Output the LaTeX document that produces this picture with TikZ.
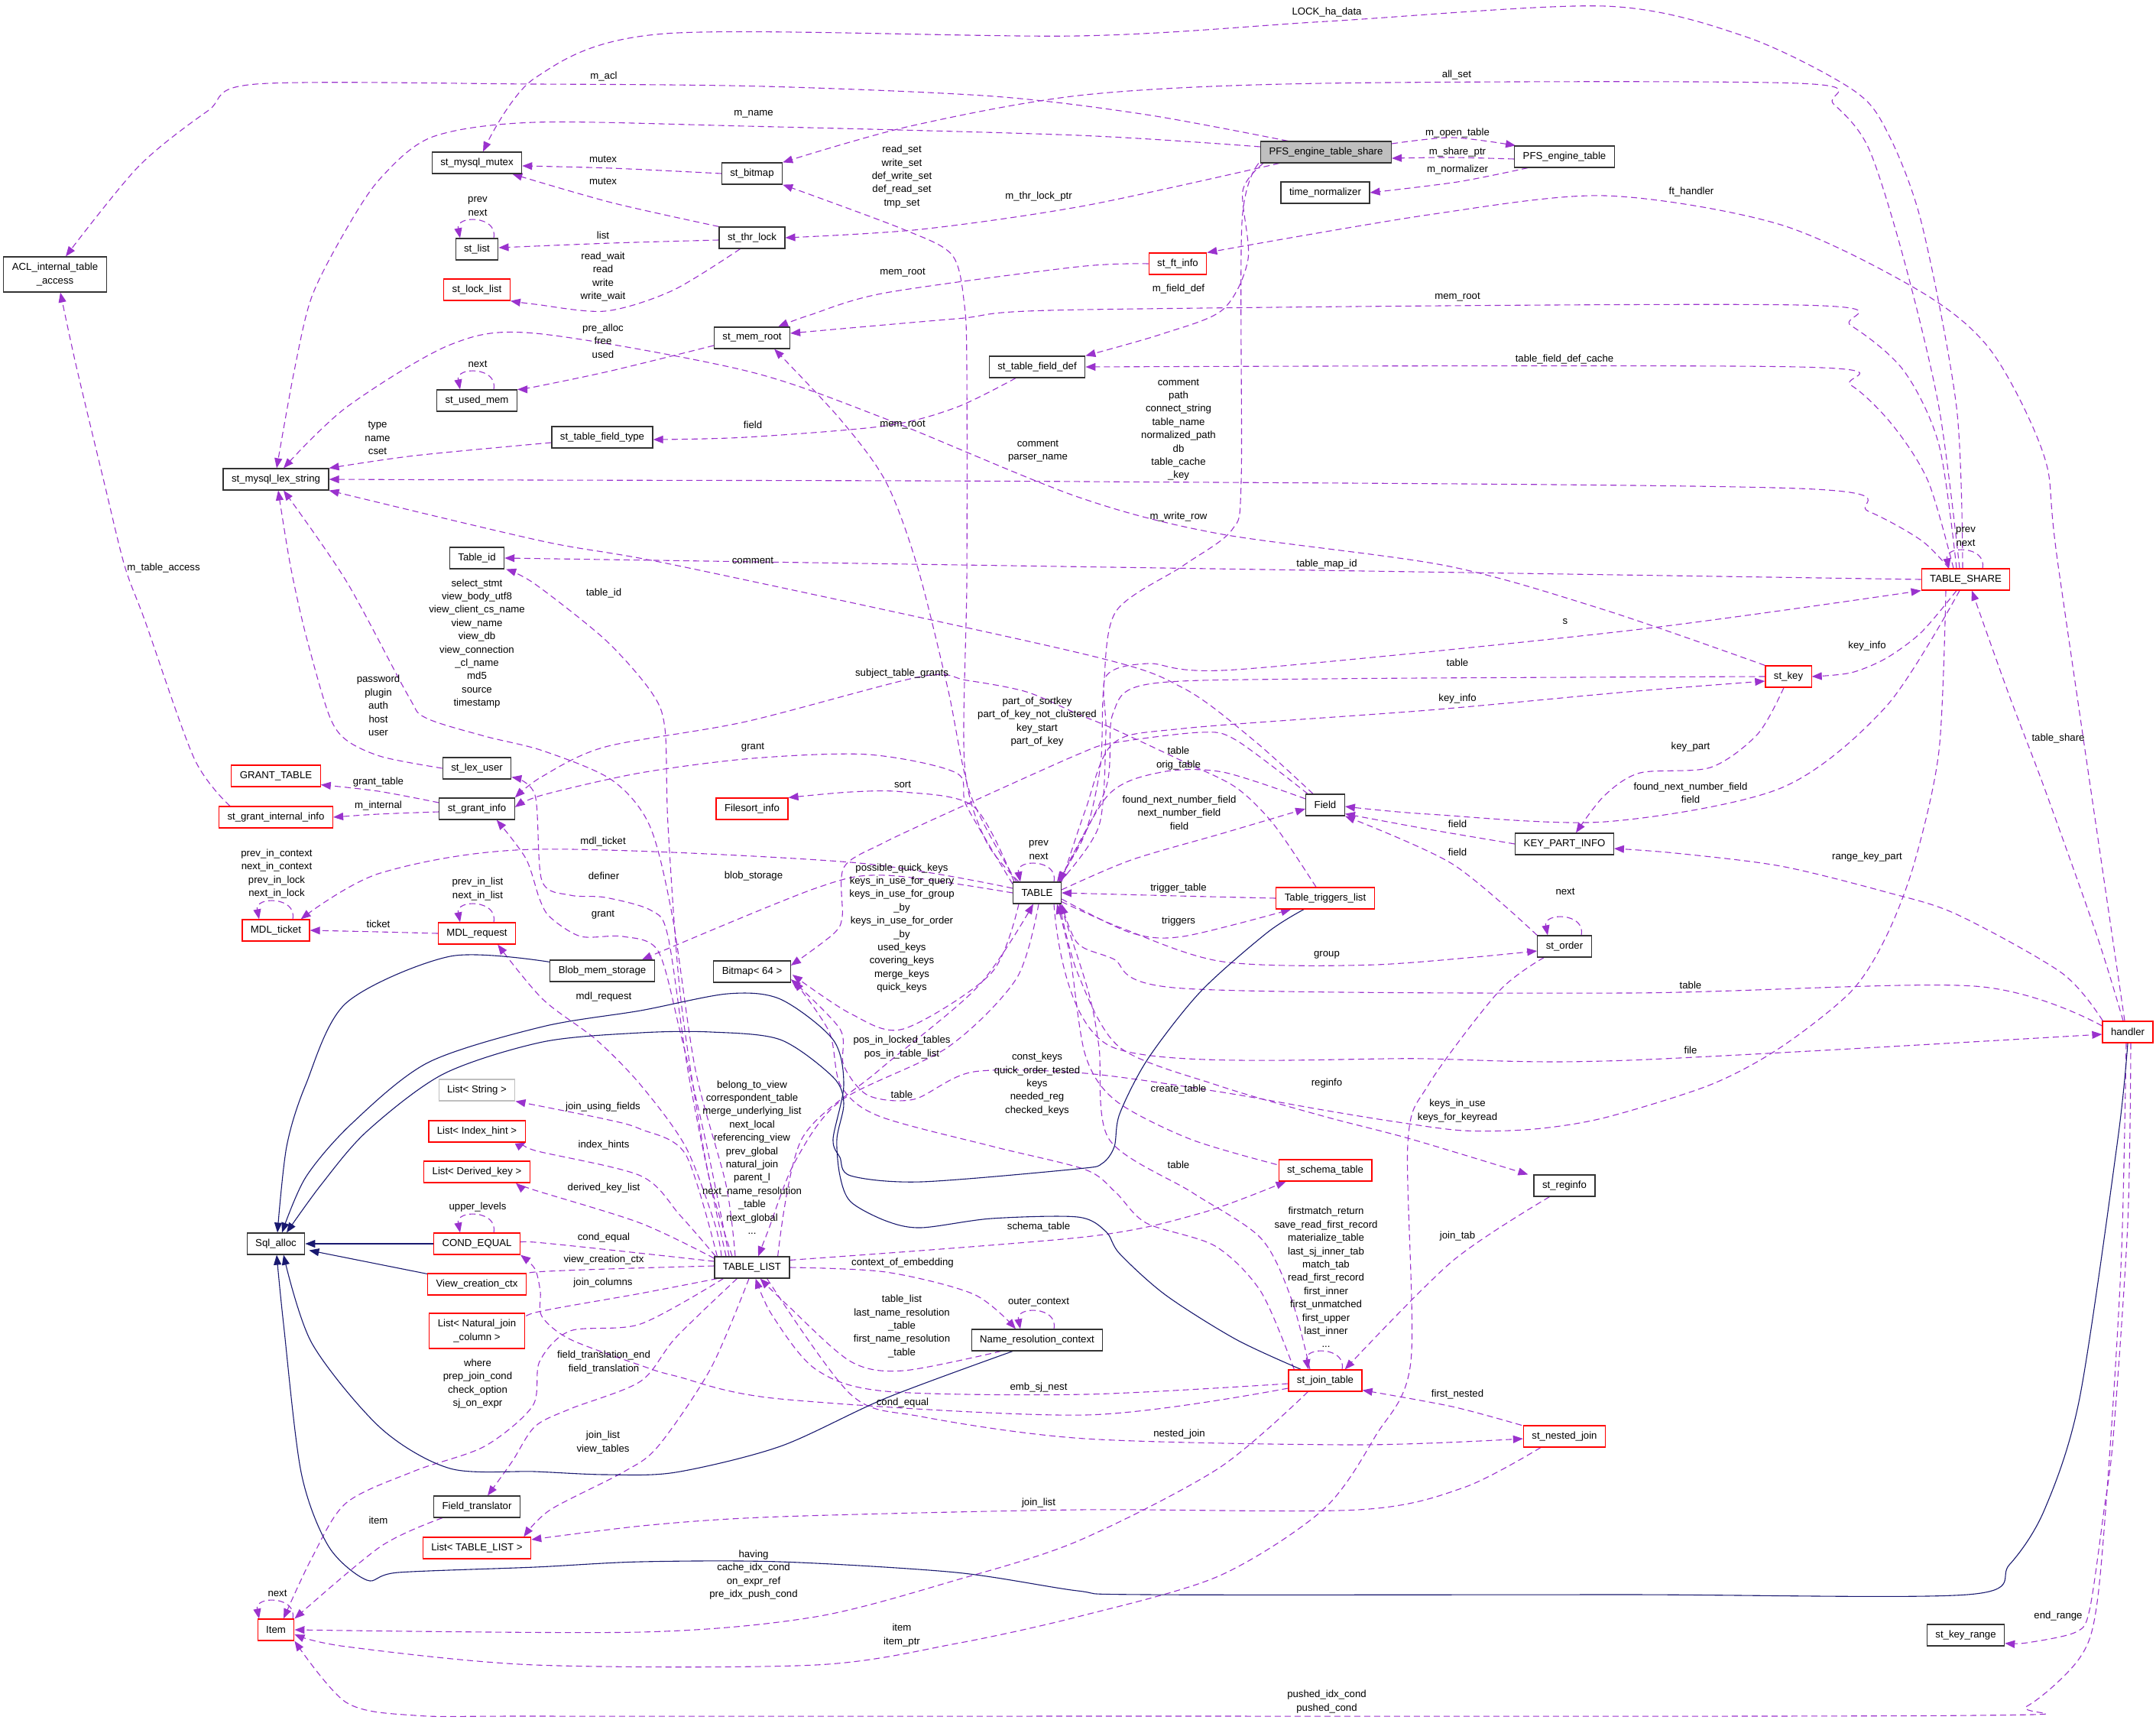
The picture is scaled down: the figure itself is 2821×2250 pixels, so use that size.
\documentclass[tikz,border=0pt]{standalone}
\usepackage{fontspec}
\setmainfont{Liberation Sans}
\usetikzlibrary{arrows.meta,calc}
\definecolor{epurple}{HTML}{9A32CD}
\definecolor{eblue}{HTML}{191970}
\newcommand\lblfont{\fontsize{13.2}{17.4}\selectfont}
\newcommand\mloop[1]{\draw[mem] ($(#1.north)+(22,0)$) .. controls +(6,-30) and +(-6,-30) .. ($(#1.north)+(-22,0)$);}
\pgfdeclarelayer{bg}
\pgfdeclarelayer{edges}
\pgfsetlayers{bg,edges,main}
\begin{document}
\begin{tikzpicture}[x=1pt,y=-1pt,
  box/.style={draw=black!80, line width=1.2pt, fill=white, inner xsep=11pt, inner ysep=0pt, minimum height=28pt, font=\lblfont, align=center},
  redbox/.style={box, draw=red},
  graybox/.style={box, draw=black!25},
  lab/.style={font=\lblfont, align=center, inner sep=0pt},
  mem/.style={draw=epurple, line width=1.1pt, dash pattern=on 8pt off 5pt, -{Triangle[length=13pt,width=10pt]}},
  inh/.style={draw=eblue, line width=1.1pt, -{Triangle[length=13pt,width=10pt]}}]
\begin{pgfonlayer}{bg}
\fill[white] (0,0) rectangle (2821,2250);
\end{pgfonlayer}
\useasboundingbox (0,0) rectangle (2821,2250);
% ---------------- nodes
\node[box, minimum height=46pt] (acl) at (72,359) {ACL\_internal\_table\\\_access};
\node[box] (mutex) at (624,213) {st\_mysql\_mutex};
\node[box] (list) at (624,326) {st\_list};
\node[redbox] (locklist) at (624,379) {st\_lock\_list};
\node[box] (usedmem) at (624,524) {st\_used\_mem};
\node[box] (lexstr) at (361,627) {st\_mysql\_lex\_string};
\node[box] (tableid) at (624,730) {Table\_id};
\node[box] (bitmap) at (984,227) {st\_bitmap};
\node[box] (thrlock) at (984,311) {st\_thr\_lock};
\node[box] (memroot) at (984,442) {st\_mem\_root};
\node[box] (tfdef) at (1357,480) {st\_table\_field\_def};
\node[box] (tftype) at (788,572) {st\_table\_field\_type};
\node[box, fill=black!25] (pfsshare) at (1735,199) {PFS\_engine\_table\_share};
\node[box] (pfstable) at (2047,205) {PFS\_engine\_table};
\node[box] (timenorm) at (1734,252) {time\_normalizer};
\node[redbox] (ftinfo) at (1541,345) {st\_ft\_info};
\node[redbox] (tshare) at (2572,758) {TABLE\_SHARE};
\node[redbox] (granttable) at (361,1015) {GRANT\_TABLE};
\node[redbox] (grantint) at (361,1069) {st\_grant\_internal\_info};
\node[box] (lexuser) at (624,1005) {st\_lex\_user};
\node[box] (grantinfo) at (624,1058) {st\_grant\_info};
\node[redbox] (mdlticket) at (361,1217) {MDL\_ticket};
\node[redbox] (mdlreq) at (624,1221) {MDL\_request};
\node[graybox] (liststring) at (624,1426) {List< String >};
\node[redbox] (listindex) at (624,1480) {List< Index\_hint >};
\node[redbox] (filesort) at (984,1058) {Filesort\_info};
\node[box] (table) at (1357,1168) {TABLE};
\node[box] (blob) at (788,1270) {Blob\_mem\_storage};
\node[box] (bitmap64) at (984,1271) {Bitmap< 64 >};
\node[box] (field) at (1734,1053) {Field};
\node[box] (kpi) at (2047,1104) {KEY\_PART\_INFO};
\node[redbox] (triggers) at (1734,1175) {Table\_triggers\_list};
\node[box] (order) at (2047,1238) {st\_order};
\node[redbox] (stkey) at (2340,885) {st\_key};
\node[redbox] (handler) at (2784,1350) {handler};
\node[box] (sqlalloc) at (361,1627) {Sql\_alloc};
\node[redbox] (listderived) at (624,1533) {List< Derived\_key >};
\node[redbox] (condeq) at (624,1627) {COND\_EQUAL};
\node[redbox] (viewctx) at (624,1680) {View\_creation\_ctx};
\node[redbox, minimum height=46pt] (listnat) at (624,1741) {List< Natural\_join\\\_column >};
\node[box] (fieldtr) at (624,1971) {Field\_translator};
\node[redbox] (listtl) at (624,2025) {List< TABLE\_LIST >};
\node[redbox] (item) at (361,2132) {Item};
\node[box] (tablelist) at (984,1658) {TABLE\_LIST};
\node[box] (namectx) at (1357,1753) {Name\_resolution\_context};
\node[redbox] (schema) at (1734,1531) {st\_schema\_table};
\node[box] (reginfo) at (2047,1551) {st\_reginfo};
\node[redbox] (jointab) at (1734,1806) {st\_join\_table};
\node[redbox] (nested) at (2047,1879) {st\_nested\_join};
\node[box] (keyrange) at (2572,2139) {st\_key\_range};
% ---------------- edges
\begin{pgfonlayer}{edges}
\draw[mem] plot[smooth] coordinates {($(tshare.north)+(-4,0)$) (2560,533) (2514,291) (2468,170) (2422,116) (2284,48) (2100,8) (1736,28) (1410,47) (870,44) (700,102) ($(mutex.north)+(8,0)$)};
\draw[mem] plot[smooth] coordinates {($(tshare.north)+(-8,0)$) (2537,533) (2491,339) (2445,194) (2399,136) (2353,109) (1731,109) (1420,124) (1191,165) (bitmap.north east)};
\draw[mem] plot[smooth] coordinates {($(pfsshare.north)+(-50,0)$) (1500,150) (1300,126) (1000,113) (700,110) (335,110) (272,145) (181,218) ($(acl.north)+(14,0)$)};
\draw[mem] plot[smooth] coordinates {($(pfsshare.west)+(0,-7)$) (1410,177) (976,165) (700,160) (566,179) (498,233) (453,300) (408,388) (385,485) ($(lexstr.north)+(1,0)$)};
\draw[mem] plot[smooth] coordinates {($(pfsshare.south west)+(25,0)$) (1420,269) (1205,300) (thrlock.east)};
\draw[mem] plot[smooth] coordinates {($(pfsshare.east)+(0,-11)$) (1900,180) ($(pfstable.north west)+(2,0)$)};
\draw[mem] plot[smooth] coordinates {($(pfstable.west)+(0,3)$) (1900,206) ($(pfsshare.east)+(0,8)$)};
\draw[mem] plot[smooth] coordinates {($(pfstable.south west)+(18,0)$) (1907,238) (timenorm.east)};
\draw[mem] plot[smooth] coordinates {(bitmap.west) (800,220) ($(mutex.east)+(0,4)$)};
\draw[mem] plot[smooth] coordinates {(thrlock.north west) (800,265) ($(mutex.south east)+(-13,0)$)};
\draw[mem] plot[smooth] coordinates {($(thrlock.west)+(0,3)$) (800,318) ($(list.east)+(0,-2)$)};
\mloop{list}
\draw[mem] plot[smooth] coordinates {($(thrlock.south west)+(28,0)$) (880,380) (792,407) (700,398) (locklist.south east)};
\draw[mem] plot[smooth] coordinates {($(memroot.west)+(0,10)$) (800,485) (700,506) (usedmem.north east)};
\mloop{usedmem}
\draw[mem] plot[smooth] coordinates {(ftinfo.west) (1410,349) (1159,383) (1060,412) ($(memroot.north east)+(-16,0)$)};
\draw[mem] plot[smooth] coordinates {($(tshare.north)+(-12,0)$) (2537,582) (2491,485) (2422,426) (2353,399) (1420,405) (1251,417) ($(memroot.east)+(0,-6)$)};
\draw[mem] plot[smooth] coordinates {($(table.north west)+(5,0)$) (1270,1040) (1240,900) (1200,740) (1159,630) (1099,548) ($(memroot.south east)+(-21,0)$)};
\draw[mem] plot[smooth] coordinates {($(pfsshare.south west)+(4,0)$) (1626,250) (1633,339) (1600,405) (1520,437) (tfdef.north east)};
\draw[mem] plot[smooth] coordinates {($(pfsshare.south west)+(-2,0)$) (1625,291) (1624,630) (1612,693) (1548,740) (1460,800) (1444,900) (1440,1000) (1420,1090) ($(table.north east)+(-6,0)$)};
\draw[mem] plot[smooth] coordinates {($(tshare.north)+(-16,0)$) (2523,630) (2477,557) (2422,504) (2353,480) (tfdef.east)};
\draw[mem] plot[smooth] coordinates {($(tfdef.south)+(-28,0)$) (1251,533) (1159,557) (976,572) ($(tftype.east)+(0,3)$)};
\draw[mem] plot[smooth] coordinates {($(tftype.west)+(0,7)$) (543,596) (lexstr.north east)};
\draw[mem] plot[smooth] coordinates {($(tshare.north)+(-22,0)$) (2514,707) (2445,669) (2353,639) (1420,630) (700,628) (lexstr.east)};
\draw[mem] plot[smooth] coordinates {(stkey.north west) (2100,798) (1892,740) (1594,698) (1410,650) (1159,548) (976,485) (700,436) (589,451) (453,533) ($(lexstr.north)+(10,0)$)};
\draw[mem] plot[smooth] coordinates {($(field.north)+(-16,0)$) (1640,968) (1548,900) (1420,856) (887,740) (710,708) (lexstr.south east)};
\draw[mem] plot[smooth] coordinates {(lexuser.west) (500,990) (453,968) (430,934) (400,830) (380,740) ($(lexstr.south)+(3,0)$)};
\draw[mem] plot[smooth] coordinates {($(tablelist.north)+(-22,0)$) (950,1550) (910,1400) (880,1200) (850,1080) (800,1020) (710,982) (634,963) (557,939) (534,910) (453,760) ($(lexstr.south)+(10,0)$)};
\draw[mem] plot[smooth] coordinates {($(table.north west)+(8,0)$) (1290,1100) (1262,1000) (1265,760) (1265,485) (1262,400) (1246,334) (1182,300) (bitmap.south east)};
\draw[mem] plot[smooth] coordinates {($(handler.north)+(-4,0)$) (2693,740) (2675,598) (2606,460) (2514,382) (2330,294) (2100,256) (1869,281) (ftinfo.north east)};
\draw[mem] (tshare.west) -- (tableid.east);
\draw[mem] plot[smooth] coordinates {($(table.north east)+(-2,0)$) (1438,1080) (1447,958) (1447,885) (1502,868) (1617,876) (2130,825) (tshare.south west)};
\draw[mem] plot[smooth] coordinates {(stkey.west) (1731,888) (1502,895) (1456,934) (1447,1031) ($(table.north east)+(-4,0)$)};
\draw[mem] plot[smooth] coordinates {(table.north east) (1420,1060) (1456,973) (1548,953) (1869,929) (2130,905) ($(stkey.west)+(0,6)$)};
\draw[mem] plot[smooth] coordinates {($(tshare.south)+(-12,0)$) (2514,827) (2468,861) (2422,880) (stkey.east)};
\draw[mem] plot[smooth] coordinates {($(stkey.south)+(-6,0)$) (2300,960) (2238,1004) (2146,1011) (2099,1041) ($(kpi.north)+(15,0)$)};
\draw[mem] plot[smooth] coordinates {($(tshare.south)+(-8,0)$) (2468,924) (2330,1031) (2100,1075) (1869,1065) ($(field.east)+(0,2)$)};
\draw[mem] plot[smooth] coordinates {(kpi.west) (1870,1085) ($(field.south east)+(0,-3)$)};
\draw[mem] plot[smooth] coordinates {($(handler.north west)+(1,0)$) (2698,1273) (2560,1196) (2468,1167) (2330,1133) (2192,1116) ($(kpi.east)+(0,6)$)};
\draw[mem] plot[smooth] coordinates {(order.north west) (1900,1130) (field.south east)};
\mloop{order}
\mloop{tshare}
\draw[mem] plot[smooth] coordinates {($(handler.north)+(-6,0)$) (2744,1225) (2675,1031) (2629,910) ($(tshare.south)+(8,0)$)};
\draw[mem] plot[smooth] coordinates {($(handler.west)+(0,-8)$) (2583,1290) (2130,1299) (1548,1293) (1456,1254) (1410,1234) (table.south east)};
\draw[mem] plot[smooth] coordinates {($(table.south east)+(-10,0)$) (1456,1370) (1869,1385) (2130,1387) ($(handler.west)+(0,3)$)};
\draw[mem] plot[smooth] coordinates {($(tshare.south)+(-26,0)$) (2537,982) (2505,1128) (2468,1225) (2422,1297) (2330,1370) (2238,1419) (2100,1462) (2007,1477) (1915,1479) (1823,1467) (1731,1452) (1594,1428) (1420,1404) (1274,1402) (1196,1438) (1136,1433) (1104,1394) (1099,1346) ($(bitmap64.east)+(0,10)$)};
\draw[mem] plot[smooth] coordinates {($(field.north west)+(3,0)$) (1617,968) (1571,958) (1456,972) (1410,987) (1265,1052) (1155,1103) (1104,1135) (1102,1199) (1090,1222) ($(bitmap64.east)+(0,-8)$)};
\draw[mem] plot[smooth] coordinates {($(table.south west)+(8,0)$) (1297,1273) (1182,1346) (1113,1326) ($(bitmap64.east)+(2,4)$)};
\draw[mem] plot[smooth] coordinates {($(grantinfo.west)+(0,-8)$) (495,1035) ($(granttable.south east)+(0,-3)$)};
\draw[mem] plot[smooth] coordinates {($(grantinfo.west)+(0,4)$) (495,1065) (grantint.east)};
\draw[mem] plot[smooth] coordinates {($(grantint.north west)+(15,0)$) (254,992) (190,813) (163,740) (136,630) (100,480) ($(acl.south)+(7,0)$)};
\draw[mem] plot[smooth] coordinates {($(table.north west)+(0,3)$) (1265,1055) (1251,1011) (1136,987) (985,992) (838,1011) (710,1040) ($(grantinfo.east)+(0,-2)$)};
\draw[mem] plot[smooth] coordinates {($(triggers.north)+(-12,0)$) (1667,1079) (1617,1030) (1548,996) (1456,953) (1410,934) (1343,905) (1265,890) (1205,885) (976,944) (792,977) (709,1016) (grantinfo.north east)};
\draw[mem] plot[smooth] coordinates {($(tablelist.north)+(-30,0)$) (925,1500) (890,1350) (861,1244) (815,1225) (760,1225) (720,1200) (706,1176) (688,1123) ($(grantinfo.south east)+(-24,0)$)};
\draw[mem] plot[smooth] coordinates {($(table.north west)+(2,0)$) (1274,1055) (1182,1036) (1113,1036) (filesort.north east)};
\draw[mem] plot[smooth] coordinates {($(table.west)+(0,-6)$) (1113,1128) (700,1111) (498,1142) ($(mdlticket.north east)+(-12,0)$)};
\draw[mem] plot[smooth] coordinates {(mdlreq.west) (495,1219) (mdlticket.east)};
\mloop{mdlticket}
\mloop{mdlreq}
\draw[mem] plot[smooth] coordinates {($(tablelist.north)+(-40,0)$) (935,1600) (897,1500) (838,1419) (780,1360) (710,1307) ($(mdlreq.south east)+(-24,0)$)};
\draw[mem] plot[smooth] coordinates {(table.west) (1159,1145) (1067,1162) ($(blob.north east)+(-17,0)$)};
\mloop{table}
\draw[mem] plot[smooth] coordinates {($(tablelist.north)+(-34,0)$) (920,1500) (890,1300) (874,1079) (870,953) (852,905) (792,837) (700,764) ($(tableid.south east)+(2,0)$)};
\draw[mem] plot[smooth] coordinates {($(tablelist.north)+(-26,0)$) (930,1550) (900,1400) (874,1225) (852,1191) (792,1174) (746,1171) (709,1152) (700,1040) ($(lexuser.south east)+(0,-3)$)};
\draw[mem] plot[smooth] coordinates {($(tablelist.north west)+(4,0)$) (897,1510) (838,1477) (792,1464) (liststring.south east)};
\draw[mem] plot[smooth] coordinates {($(tablelist.north west)+(2,0)$) (890,1590) (838,1538) (700,1505) (listindex.south east)};
\draw[mem] plot[smooth] coordinates {($(tablelist.west)+(0,-12)$) (838,1600) (700,1557) ($(listderived.south east)+(-19,0)$)};
\draw[mem] plot[smooth] coordinates {($(tablelist.west)+(0,-8)$) (700,1625) ($(condeq.east)+(0,3)$)};
\draw[mem] plot[smooth] coordinates {($(tablelist.west)+(0,-2)$) (700,1664) ($(viewctx.east)+(0,-3)$)};
\draw[mem] plot[smooth] coordinates {($(tablelist.south west)+(4,0)$) (838,1692) (700,1717) ($(listnat.east)+(0,-11)$)};
\mloop{condeq}
\draw[mem] plot[smooth] coordinates {($(tablelist.south west)+(12,0)$) (838,1732) (746,1741) (706,1781) (697,1839) (634,1892) (543,1924) (453,1966) (408,2038) ($(item.north)+(10,0)$)};
\draw[mem] plot[smooth] coordinates {($(fieldtr.south west)+(12,0)$) (498,2023) (item.north east)};
\draw[mem] plot[smooth] coordinates {($(tablelist.south west)+(30,0)$) (884,1750) (838,1807) (746,1843) (700,1866) (670,1912) ($(fieldtr.north)+(14,0)$)};
\draw[mem] plot[smooth] coordinates {($(tablelist.south)+(-4,0)$) (930,1790) (861,1892) (815,1926) (720,1975) ($(listtl.north east)+(-10,0)$)};
\draw[mem] plot[smooth] coordinates {($(nested.south west)+(23,0)$) (1915,1946) (1777,1975) (1410,1975) (1021,1984) (850,1995) ($(listtl.east)+(0,-11)$)};
\mloop{item}
\draw[mem] plot[smooth] coordinates {($(jointab.south west)+(26,0)$) (1594,1921) (1410,2016) (1251,2067) (1067,2115) (838,2135) (item.east)};
\draw[mem] plot[smooth] coordinates {($(order.south west)+(9,0)$) (1961,1297) (1869,1419) (1842,1496) (1846,1781) (1800,1878) (1731,1975) (1594,2062) (1410,2115) (1251,2150) (1067,2178) (700,2178) (453,2154) ($(item.east)+(0,6)$)};
\draw[mem] plot[smooth] coordinates {($(handler.south)+(-2,0)$) (2776,1635) (2762,1878) (2744,2096) (2721,2169) (2652,2232) (2583,2244) (1400,2245) (700,2245) (543,2244) (453,2227) (item.south east)};
\draw[mem] plot[smooth] coordinates {($(handler.south)+(4,0)$) (2784,1600) (2765,1880) (2753,1975) (2734,2106) (2716,2135) (2652,2149) ($(keyrange.south east)+(0,-4)$)};
\draw[mem] plot[smooth] coordinates {(tablelist.east) (1159,1664) (1274,1693) ($(namectx.north)+(-28,0)$)};
\mloop{namectx}
\draw[mem] plot[smooth] coordinates {($(namectx.south west)+(39,0)$) (1182,1793) (1113,1781) (1031,1708) ($(tablelist.south east)+(-39,0)$)};
\draw[mem] plot[smooth] coordinates {($(jointab.west)+(0,4)$) (1420,1824) (1159,1820) (1067,1791) (1010,1720) ($(tablelist.south east)+(-45,0)$)};
\draw[mem] plot[smooth] coordinates {($(jointab.west)+(0,10)$) (1420,1851) (1021,1830) (884,1800) (838,1786) (746,1752) (709,1722) (707,1690) (700,1660) (condeq.south east)};
\draw[mem] plot[smooth] coordinates {($(tablelist.south east)+(-30,0)$) (1113,1824) (1205,1853) (1420,1882) (1777,1890) ($(nested.west)+(0,3)$)};
\draw[mem] plot[smooth] coordinates {($(nested.north west)+(-2,0)$) (1900,1840) ($(jointab.south east)+(0,-2)$)};
\mloop{jointab}
\draw[mem] plot[smooth] coordinates {($(reginfo.south west)+(21,0)$) (1900,1650) ($(jointab.north east)+(-23,0)$)};
\draw[mem] plot[smooth] coordinates {($(table.south east)+(-3,0)$) (1410,1273) (1465,1370) (1594,1420) (1731,1460) (1846,1490) ($(reginfo.north west)+(-7,0)$)};
\draw[mem] plot[smooth] coordinates {($(schema.north west)+(-2,7)$) (1557,1490) (1460,1440) (1420,1380) (1400,1250) ($(table.south east)+(-6,0)$)};
\draw[mem] plot[smooth] coordinates {($(tablelist.north east)+(-16,0)$) (1049,1490) (1150,1400) (1280,1290) ($(table.south)+(-5,0)$)};
\draw[mem] plot[smooth] coordinates {($(table.south)+(2,0)$) (1330,1280) (1240,1370) (1100,1440) (1040,1520) (1005,1610) ($(tablelist.north)+(8,0)$)};
\draw[mem] plot[smooth] coordinates {($(jointab.north)+(-20,0)$) (1690,1700) (1650,1620) (1560,1560) (1451,1490) (1438,1370) (1424,1297) ($(table.south east)+(-2,0)$)};
\draw[mem] plot[smooth] coordinates {($(jointab.north west)+(8,0)$) (1650,1690) (1590,1630) (1500,1600) (1460,1560) (1420,1530) (1300,1500) (1150,1460) (1100,1420) (1085,1350) ($(bitmap64.east)+(4,12)$)};
\draw[mem] plot[smooth] coordinates {($(field.west)+(0,-8)$) (1600,1010) (1520,1010) (1450,1040) ($(table.north east)+(-3,0)$)};
\draw[mem] plot[smooth] coordinates {($(table.east)+(0,-4)$) (1480,1125) (1600,1090) ($(field.west)+(0,5)$)};
\draw[mem] plot[smooth] coordinates {(triggers.west) (1542,1172) (table.east)};
\draw[mem] plot[smooth] coordinates {($(table.east)+(0,8)$) (1479,1220) (1548,1225) ($(triggers.south west)+(20,0)$)};
\draw[mem] plot[smooth] coordinates {($(table.south east)+(0,-3)$) (1470,1215) (1600,1258) (1800,1262) ($(order.west)+(0,6)$)};
\draw[mem] plot[smooth] coordinates {($(tablelist.north east)+(0,5)$) (1420,1618) (1571,1587) ($(schema.south west)+(10,0)$)};
% inheritance
\draw[inh] plot[smooth] coordinates {(handler.south) (2771,1490) (2721,1829) (2675,1975) (2629,2047) (2574,2086) (2130,2086) (1502,2086) (1410,2081) (1251,2057) (1021,2043) (838,2043) (700,2050) (521,2057) (480,2067) (430,2023) (394,1926) (371,1732) ($(sqlalloc.south)+(1,0)$)};
\draw[inh] (condeq.west) -- (sqlalloc.east);
\draw[inh] ($(viewctx.north west)+(0,1)$) -- ($(sqlalloc.south east)+(5,-6)$);
\draw[inh] plot[smooth] coordinates {($(namectx.south)+(-32,0)$) (1159,1829) (1021,1892) (884,1926) (792,1929) (700,1925) (589,1921) (498,1868) (408,1757) ($(sqlalloc.south)+(10,0)$)};
\draw[inh] plot[smooth] coordinates {($(blob.north west)+(0,3)$) (589,1251) (453,1312) (400,1419) (375,1500) ($(sqlalloc.north)+(2,0)$)};
\draw[inh] plot[smooth] coordinates {($(triggers.south)+(-28,0)$) (1658,1220) (1571,1297) (1502,1385) (1465,1457) (1458,1500) (1442,1522) (1410,1529) (1205,1546) (1113,1538) (1099,1514) (1090,1490) (1104,1419) (1090,1360) (1021,1307) (952,1300) (838,1322) (710,1343) (560,1390) (460,1470) (400,1540) ($(sqlalloc.north)+(8,0)$)};
\draw[inh] plot[smooth] coordinates {($(jointab.north west)+(17,0)$) (1617,1752) (1525,1694) (1465,1640) (1447,1611) (1410,1592) (1297,1594) (1205,1606) (1159,1597) (1113,1572) (1099,1538) (1095,1490) (1104,1443) (1090,1409) (1021,1360) (930,1350) (838,1351) (710,1363) (580,1405) (480,1480) (420,1550) ($(sqlalloc.north)+(14,0)$)};
\end{pgfonlayer}
% ---------------- labels
\node[lab] (L1) at (1736,16) {LOCK\_ha\_data};
\node[lab] (L2) at (1906,98) {all\_set};
\node[lab] (L3) at (790,100) {m\_acl};
\node[lab] (L4) at (986,149) {m\_name};
\node[lab] (L5) at (1359,257) {m\_thr\_lock\_ptr};
\node[lab] (L6) at (1907,174) {m\_open\_table};
\node[lab] (L7) at (1907,199) {m\_share\_ptr};
\node[lab] (L8) at (1907,222) {m\_normalizer};
\node[lab] (L9) at (789,208) {mutex};
\node[lab] (L10) at (789,237) {mutex};
\node[lab] (L11) at (789,308) {list};
\node[lab] (L12) at (625,270) {prev\\next};
\node[lab] (L13) at (789,362) {read\_wait\\read\\write\\write\_wait};
\node[lab] (L14) at (789,446) {pre\_alloc\\free\\used};
\node[lab] (L15) at (625,476) {next};
\node[lab] (L16) at (1181,357) {mem\_root};
\node[lab] (L17) at (1907,389) {mem\_root};
\node[lab] (L18) at (1181,556) {mem\_root};
\node[lab] (L19) at (1542,378) {m\_field\_def};
\node[lab] (L20) at (1542,676) {m\_write\_row};
\node[lab] (L21) at (2047,470) {table\_field\_def\_cache};
\node[lab] (L22) at (985,556) {field};
\node[lab] (L23) at (494,573) {type\\name\\cset};
\node[lab] (L24) at (1542,562) {comment\\path\\connect\_string\\table\_name\\normalized\_path\\db\\table\_cache\\\_key};
\node[lab] (L25) at (1358,590) {comment\\parser\_name};
\node[lab] (L26) at (985,733) {comment};
\node[lab] (L27) at (495,923) {password\\plugin\\auth\\host\\user};
\node[lab] (L28) at (624,842) {select\_stmt\\view\_body\_utf8\\view\_client\_cs\_name\\view\_name\\view\_db\\view\_connection\\\_cl\_name\\md5\\source\\timestamp};
\node[lab] (L29) at (1180,231) {read\_set\\write\_set\\def\_write\_set\\def\_read\_set\\tmp\_set};
\node[lab] (L30) at (2213,251) {ft\_handler};
\node[lab] (L31) at (1736,738) {table\_map\_id};
\node[lab] (L32) at (2048,813) {s};
\node[lab] (L33) at (1907,867) {table};
\node[lab] (L34) at (1907,914) {key\_info};
\node[lab] (L35) at (2443,845) {key\_info};
\node[lab] (L36) at (2212,977) {key\_part};
\node[lab] (L37) at (2212,1037) {found\_next\_number\_field\\field};
\node[lab] (L38) at (1907,1078) {field};
\node[lab] (L39) at (2443,1121) {range\_key\_part};
\node[lab] (L40) at (1907,1115) {field};
\node[lab] (L41) at (2048,1166) {next};
\node[lab] (L42) at (2572,702) {prev\\next};
\node[lab] (L43) at (2693,966) {table\_share};
\node[lab] (L44) at (2212,1289) {table};
\node[lab] (L45) at (2212,1374) {file};
\node[lab] (L46) at (1907,1453) {keys\_in\_use\\keys\_for\_keyread};
\node[lab] (L47) at (1357,944) {part\_of\_sortkey\\part\_of\_key\_not\_clustered\\key\_start\\part\_of\_key};
\node[lab] (L48) at (1180,1214) {possible\_quick\_keys\\keys\_in\_use\_for\_query\\keys\_in\_use\_for\_group\\\_by\\keys\_in\_use\_for\_order\\\_by\\used\_keys\\covering\_keys\\merge\_keys\\quick\_keys};
\node[lab] (L49) at (495,1023) {grant\_table};
\node[lab] (L50) at (495,1054) {m\_internal};
\node[lab] (L51) at (214,743) {m\_table\_access};
\node[lab] (L52) at (985,978) {grant};
\node[lab] (L53) at (789,1197) {grant};
\node[lab] (L54) at (1180,881) {subject\_table\_grants};
\node[lab] (L55) at (1181,1026) {sort};
\node[lab] (L56) at (789,1101) {mdl\_ticket};
\node[lab] (L57) at (495,1209) {ticket};
\node[lab] (L58) at (362,1143) {prev\_in\_context\\next\_in\_context\\prev\_in\_lock\\next\_in\_lock};
\node[lab] (L59) at (625,1163) {prev\_in\_list\\next\_in\_list};
\node[lab] (L60) at (790,1304) {mdl\_request};
\node[lab] (L61) at (986,1146) {blob\_storage};
\node[lab] (L62) at (1359,1112) {prev\\next};
\node[lab] (L63) at (790,776) {table\_id};
\node[lab] (L64) at (790,1146) {definer};
\node[lab] (L65) at (789,1448) {join\_using\_fields};
\node[lab] (L66) at (790,1498) {index\_hints};
\node[lab] (L67) at (790,1554) {derived\_key\_list};
\node[lab] (L68) at (790,1619) {cond\_equal};
\node[lab] (L69) at (790,1648) {view\_creation\_ctx};
\node[lab] (L70) at (789,1678) {join\_columns};
\node[lab] (L71) at (625,1579) {upper\_levels};
\node[lab] (L72) at (625,1810) {where\\prep\_join\_cond\\check\_option\\sj\_on\_expr};
\node[lab] (L73) at (495,1989) {item};
\node[lab] (L74) at (790,1782) {field\_translation\_end\\field\_translation};
\node[lab] (L75) at (789,1887) {join\_list\\view\_tables};
\node[lab] (L76) at (1359,1966) {join\_list};
\node[lab] (L77) at (363,2084) {next};
\node[lab] (L78) at (986,2060) {having\\cache\_idx\_cond\\on\_expr\_ref\\pre\_idx\_push\_cond};
\node[lab] (L79) at (1180,2139) {item\\item\_ptr};
\node[lab] (L80) at (1736,2226) {pushed\_idx\_cond\\pushed\_cond};
\node[lab] (L81) at (2693,2114) {end\_range};
\node[lab] (L82) at (1181,1652) {context\_of\_embedding};
\node[lab] (L83) at (1359,1704) {outer\_context};
\node[lab] (L84) at (1180,1735) {table\_list\\last\_name\_resolution\\\_table\\first\_name\_resolution\\\_table};
\node[lab] (L85) at (1359,1815) {emb\_sj\_nest};
\node[lab] (L86) at (1181,1835) {cond\_equal};
\node[lab] (L87) at (1543,1876) {nested\_join};
\node[lab] (L88) at (1907,1824) {first\_nested};
\node[lab] (L89) at (1735,1671) {firstmatch\_return\\save\_read\_first\_record\\materialize\_table\\last\_sj\_inner\_tab\\match\_tab\\read\_first\_record\\first\_inner\\first\_unmatched\\first\_upper\\last\_inner\\...};
\node[lab] (L90) at (1907,1617) {join\_tab};
\node[lab] (L91) at (1736,1417) {reginfo};
\node[lab] (L92) at (1542,1425) {create\_table};
\node[lab] (L93) at (1542,1524) {table};
\node[lab] (L94) at (1359,1605) {schema\_table};
\node[lab] (L95) at (1180,1432) {table};
\node[lab] (L96) at (1180,1370) {pos\_in\_locked\_tables\\pos\_in\_table\_list};
\node[lab] (L97) at (1357,1418) {const\_keys\\quick\_order\_tested\\keys\\needed\_reg\\checked\_keys};
\node[lab] (L98) at (984,1514) {belong\_to\_view\\correspondent\_table\\merge\_underlying\_list\\next\_local\\referencing\_view\\prev\_global\\natural\_join\\parent\_l\\next\_name\_resolution\\\_table\\next\_global\\...};
\node[lab] (L99) at (1542,1162) {trigger\_table};
\node[lab] (L100) at (1542,1205) {triggers};
\node[lab] (L101) at (1543,1063) {found\_next\_number\_field\\next\_number\_field\\field};
\node[lab] (L102) at (1542,992) {table\\orig\_table};
\node[lab] (L103) at (1736,1249) {group};
\end{tikzpicture}
\end{document}
